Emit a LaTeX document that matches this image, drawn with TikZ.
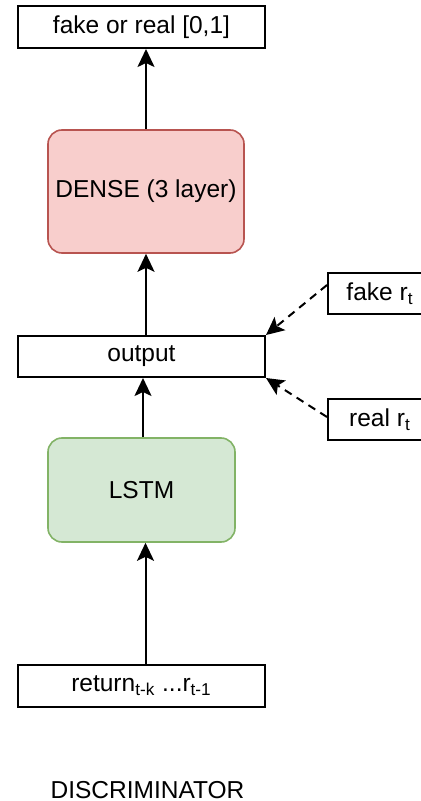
\documentclass[tikz,border=0pt]{standalone}
\usepackage{fontspec}
\setmainfont{Liberation Sans}
\usepackage{tikz}
\usetikzlibrary{positioning,arrows.meta}
\definecolor{densefill}{HTML}{F8CECC}
\definecolor{densedraw}{HTML}{B85450}
\definecolor{lstmfill}{HTML}{D5E8D4}
\definecolor{lstmdraw}{HTML}{82B366}

\begin{document}
\begin{tikzpicture}[
    font=\fontsize{12.25}{14}\selectfont,
    plainbox/.style={
        rectangle,
        inner sep=0pt,
        minimum width=123.5pt,
        minimum height=21pt,
        align=center,
        draw=black,
        line width=1pt
    },
    sidebox/.style={
        plainbox,
        minimum width=52pt,
        minimum height=20.5pt
    },
    densebox/.style={
        rectangle,
        rounded corners=7pt,
        inner sep=0pt,
        minimum width=98pt,
        minimum height=61.5pt,
        align=center,
        draw=densedraw,
        fill=densefill,
        line width=0.8pt
    },
    lstmbox/.style={
        densebox,
        minimum width=93.5pt,
        minimum height=52pt,
        draw=lstmdraw,
        fill=lstmfill
    },
    title/.style={
        inner sep=0pt,
        draw=none,
        fill=none
    },
    arrow/.style={line width=1pt, -{Stealth[length=9pt, width=8.5pt, inset=2pt]}},
    dasharrow/.style={arrow, dash pattern=on 4pt off 3pt}
]

\node (res) [plainbox] {fake or real [0,1]};

\node (dense) [densebox, below=40.1pt of res, xshift=2.25pt] {DENSE (3 layer)};

\node (output) [plainbox, below=40.6pt of dense, xshift=-2.25pt, minimum height=20.5pt] {output};

\node (fake) [sidebox, above right=10pt and 30.5pt of output] {fake r\textsubscript{t}};
\node (real) [sidebox, below right=10pt and 30.5pt of output] {real r\textsubscript{t}};

\node (lstm) [lstmbox, below=29.6pt of output] {LSTM};

\node (ret) [plainbox, below=60.6pt of lstm] {return\textsubscript{t-k} ...r\textsubscript{t-1}};

\node (disc) [title, below=36.6pt of ret, xshift=3pt] {DISCRIMINATOR};

\draw [arrow] (dense.north) -- (dense.north |- res.south);
\draw [arrow] (dense.south |- output.north) -- (dense.south);
\draw [arrow] ([xshift=0.75pt]lstm.north) -- ([xshift=0.75pt]lstm.north |- output.south);
\draw [arrow] ([xshift=2pt]ret.north) -- ([xshift=2pt]ret.north |- lstm.south);
\draw [dasharrow] ([yshift=4.25pt]fake.west) -- (output.north east);
\draw [dasharrow] ([yshift=1.25pt]real.west) -- (output.south east);

\pgfresetboundingbox
\useasboundingbox ([xshift=-8.5pt, yshift=2.5pt]res.north west) rectangle ++(210.5pt,-400.5pt);

\end{tikzpicture}
\end{document}
